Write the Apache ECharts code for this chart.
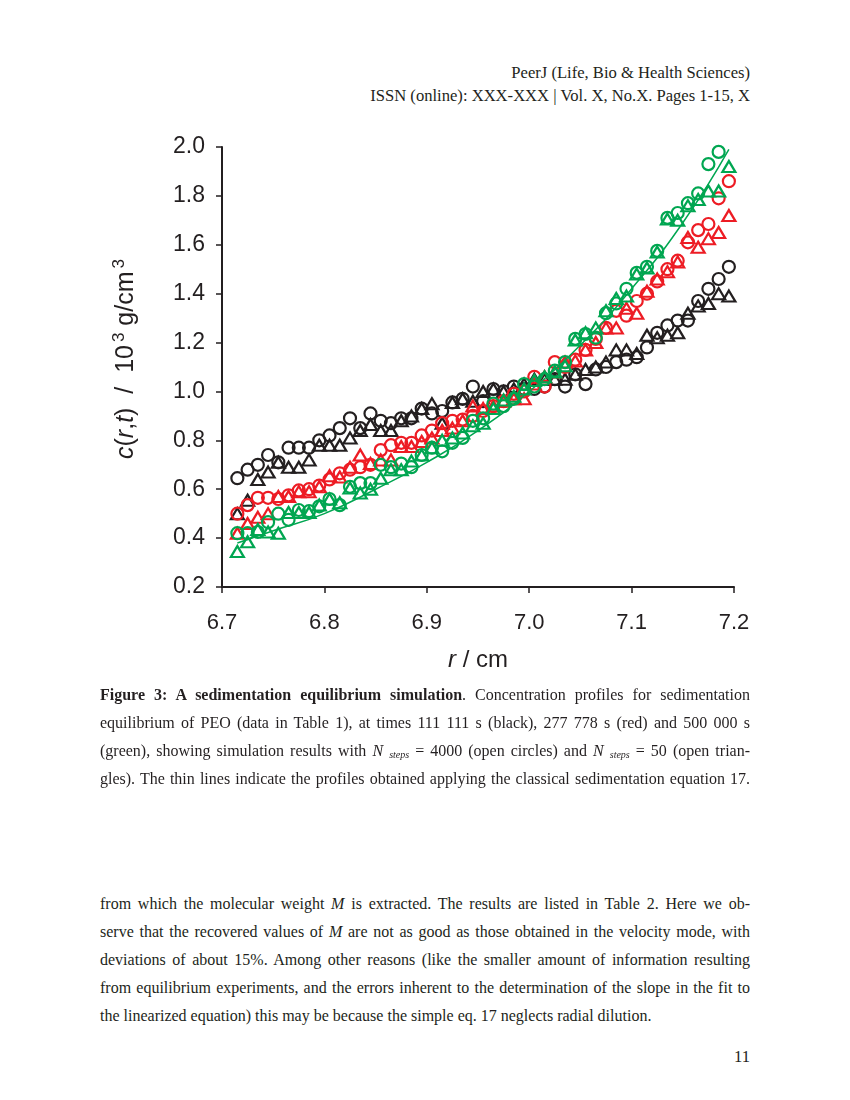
<!DOCTYPE html>
<html>
<head>
<meta charset="utf-8">
<script src="https://cdn.jsdelivr.net/npm/echarts@6/dist/echarts.min.js"></script>
<style>
  body { margin: 0; background: #fff; }
  #page { position: relative; width: 850px; height: 1100px; font-family: "Liberation Serif", "DejaVu Serif", serif; color: #231f20; font-size: 16px; }
  #main { position: absolute; left: 0; top: 0; width: 850px; height: 700px; }
  .ln { position: absolute; left: 100px; width: 650px; line-height: 22px; white-space: nowrap; }
  .j { text-align: justify; text-align-last: justify; }
  .r { text-align: right; font-size: 16.6px; }
  sub { font-size: 10px; font-style: italic; vertical-align: -2px; }
</style>
</head>
<body>
<div id="page">
  <div class="ln r" style="top:62px">PeerJ (Life, Bio &amp; Health Sciences)</div>
  <div class="ln r" style="top:85px">ISSN (online): XXX-XXX | Vol. X, No.X. Pages 1-15, X</div>

  <div id="main"></div>

  <div class="ln j" style="top:684px"><b>Figure 3: A sedimentation equilibrium simulation</b>. Concentration profiles for sedimentation</div>
  <div class="ln j" style="top:712px">equilibrium of PEO (data in Table 1), at times 111 111 s (black), 277 778 s (red) and 500 000 s</div>
  <div class="ln j" style="top:740px">(green), showing simulation results with <i>N</i> <sub>steps</sub> = 4000 (open circles) and <i>N</i> <sub>steps</sub> = 50 (open trian-</div>
  <div class="ln j" style="top:768px">gles). The thin lines indicate the profiles obtained applying the classical sedimentation equation 17.</div>

  <div class="ln j" style="top:893px">from which the molecular weight <i>M</i> is extracted. The results are listed in Table 2. Here we ob-</div>
  <div class="ln j" style="top:921px">serve that the recovered values of <i>M</i> are not as good as those obtained in the velocity mode, with</div>
  <div class="ln j" style="top:949px">deviations of about 15%. Among other reasons (like the smaller amount of information resulting</div>
  <div class="ln j" style="top:977px">from equilibrium experiments, and the errors inherent to the determination of the slope in the fit to</div>
  <div class="ln" style="top:1005px">the linearized equation) this may be because the simple eq. 17 neglects radial dilution.</div>

  <div class="ln r" style="top:1046px">11</div>
</div>
<script>
// radial positions r / cm
const rPos = [6.715, 6.725, 6.735, 6.745, 6.755, 6.765, 6.775, 6.785, 6.795, 6.805,
  6.815, 6.825, 6.835, 6.845, 6.855, 6.865, 6.875, 6.885, 6.895, 6.905,
  6.915, 6.925, 6.935, 6.945, 6.955, 6.965, 6.975, 6.985, 6.995, 7.005,
  7.015, 7.025, 7.035, 7.045, 7.055, 7.065, 7.075, 7.085, 7.095, 7.105,
  7.115, 7.125, 7.135, 7.145, 7.155, 7.165, 7.175, 7.185, 7.195];

// 111 111 s (black)
const blackCircles = [0.645, 0.68, 0.70, 0.74, 0.71, 0.77, 0.77, 0.77, 0.80, 0.82,
  0.85, 0.89, 0.85, 0.91, 0.88, 0.87, 0.89, 0.89, 0.93, 0.91,
  0.92, 0.955, 0.97, 1.02, 0.96, 1.01, 1.00, 1.02, 1.01, 1.01,
  1.02, 1.05, 1.02, 1.07, 1.03, 1.09, 1.10, 1.12, 1.13, 1.14,
  1.18, 1.24, 1.27, 1.29, 1.29, 1.37, 1.42, 1.46, 1.51];
const blackTriangles = [0.50, 0.555, 0.64, 0.67, 0.71, 0.69, 0.69, 0.72, 0.78, 0.78,
  0.78, 0.81, 0.84, 0.865, 0.84, 0.84, 0.88, 0.90, 0.93, 0.95,
  0.87, 0.955, 0.97, 0.96, 1.00, 1.01, 1.00, 1.01, 1.03, 1.05,
  1.05, 1.05, 1.05, 1.07, 1.09, 1.10, 1.12, 1.17, 1.17, 1.155,
  1.23, 1.22, 1.23, 1.24, 1.32, 1.35, 1.36, 1.40, 1.39];

// 277 778 s (red)
const redCircles = [0.50, 0.535, 0.565, 0.565, 0.56, 0.575, 0.595, 0.60, 0.615, 0.64,
  0.665, 0.68, 0.69, 0.70, 0.76, 0.78, 0.79, 0.79, 0.82, 0.84,
  0.87, 0.88, 0.885, 0.90, 0.92, 0.94, 0.96, 0.99, 1.00, 1.06,
  1.02, 1.12, 1.10, 1.13, 1.17, 1.215, 1.26, 1.33, 1.31, 1.37,
  1.40, 1.45, 1.50, 1.535, 1.61, 1.66, 1.685, 1.79, 1.86];
const redTriangles = [0.42, 0.46, 0.485, 0.50, 0.57, 0.57, 0.59, 0.59, 0.61, 0.655,
  0.65, 0.69, 0.74, 0.705, 0.72, 0.72, 0.775, 0.775, 0.795, 0.81,
  0.84, 0.85, 0.88, 0.94, 0.93, 0.94, 0.96, 0.97, 0.97, 1.03,
  1.06, 1.08, 1.12, 1.125, 1.17, 1.20, 1.26, 1.26, 1.34, 1.32,
  1.41, 1.46, 1.49, 1.53, 1.63, 1.59, 1.625, 1.65, 1.72];

// 500 000 s (green)
const greenCircles = [0.42, 0.42, 0.425, 0.465, 0.50, 0.475, 0.515, 0.51, 0.53, 0.56,
  0.535, 0.61, 0.625, 0.625, 0.70, 0.69, 0.705, 0.69, 0.74, 0.77,
  0.755, 0.79, 0.81, 0.88, 0.89, 0.95, 0.94, 0.97, 1.03, 1.02,
  1.05, 1.085, 1.12, 1.215, 1.235, 1.22, 1.32, 1.36, 1.42, 1.485,
  1.51, 1.575, 1.71, 1.73, 1.77, 1.81, 1.93, 1.98, null];
const greenTriangles = [0.345, 0.385, 0.435, 0.425, 0.42, 0.505, 0.505, 0.505, 0.535, 0.56,
  0.545, 0.605, 0.585, 0.60, 0.645, 0.68, 0.68, 0.715, 0.74, 0.77,
  0.80, 0.81, 0.83, 0.86, 0.87, 0.93, 0.965, 0.98, 1.01, 1.045,
  1.06, 1.08, 1.105, 1.21, 1.24, 1.26, 1.33, 1.38, 1.39, 1.48,
  1.505, 1.57, 1.705, 1.70, 1.76, 1.785, 1.82, 1.82, 1.92];

// classical sedimentation profile (thin line)
const lineR = [6.715, 6.75, 6.80, 6.85, 6.90, 6.95, 7.00, 7.05, 7.10, 7.15, 7.195];
const greenLine = [0.38, 0.43, 0.50, 0.60, 0.71, 0.84, 1.00, 1.19, 1.42, 1.69, 1.99];

const xTicks = ['6.7', '6.8', '6.9', '7.0', '7.1', '7.2'];

const BLACK = '#231f20', RED = '#ed1c24', GREEN = '#00a651';

function pairs(xs, ys) {
  const out = [];
  for (let i = 0; i < xs.length; i++) {
    if (ys[i] != null) out.push([xs[i], ys[i]]);
  }
  return out;
}

function marks(name, data, symbol, color) {
  return {
    name: name,
    type: 'scatter',
    symbol: symbol,
    symbolSize: symbol === 'circle' ? 12 : [13, 11],
    itemStyle: { color: 'rgba(0,0,0,0)', borderColor: color, borderWidth: 2.2, opacity: 1 },
    data: pairs(rPos, data)
  };
}

const myChart = echarts.init(document.getElementById('main'));
const option = {
  animation: false,
  grid: { left: 222, right: 116, top: 147, bottom: 113 },
  xAxis: {
    type: 'value', min: 6.7, max: 7.2, interval: 0.1,
    name: '{i|r} / cm', nameLocation: 'middle', nameGap: 61,
    nameTextStyle: {
      fontFamily: 'Liberation Sans', fontSize: 24, color: BLACK,
      rich: { i: { fontFamily: 'Liberation Sans', fontStyle: 'italic', fontSize: 24, color: BLACK } }
    },
    axisLine: { lineStyle: { color: BLACK, width: 2 } },
    axisTick: { length: 6, lineStyle: { color: BLACK, width: 1.5 } },
    axisLabel: {
      margin: 25, fontFamily: 'Liberation Sans', fontSize: 22, color: BLACK,
      formatter: function (v) { return xTicks[Math.round((v - 6.7) * 10)]; }
    },
    splitLine: { show: false }
  },
  yAxis: {
    type: 'value', min: 0.2, max: 2.0, interval: 0.2,
    name: '{i|c}({i|r},{i|t})  /  10{s|3} g/cm{s|3}', nameLocation: 'middle', nameGap: 80, nameRotate: 90,
    nameTextStyle: {
      fontFamily: 'Liberation Sans', fontSize: 25, color: BLACK,
      padding: [0, 0, 0, 16],
      rich: {
        i: { fontFamily: 'Liberation Sans', fontStyle: 'italic', fontSize: 25, color: BLACK },
        s: { fontFamily: 'Liberation Sans', fontSize: 17, color: BLACK, padding: [0, 0, 14, 3] }
      }
    },
    axisLine: { show: true, lineStyle: { color: BLACK, width: 2 } },
    axisTick: { show: true, length: 6, lineStyle: { color: BLACK, width: 1.5 } },
    axisLabel: {
      margin: 17, fontFamily: 'Liberation Sans', fontSize: 23, color: BLACK,
      formatter: function (v) { return v.toFixed(1); }
    },
    splitLine: { show: false }
  },
  series: [
    marks('black circles', blackCircles, 'circle', BLACK),
    marks('black triangles', blackTriangles, 'triangle', BLACK),
    marks('red circles', redCircles, 'circle', RED),
    marks('red triangles', redTriangles, 'triangle', RED),
    {
      name: 'green profile', type: 'line', smooth: true, showSymbol: false,
      lineStyle: { color: GREEN, width: 1.5 },
      data: pairs(lineR, greenLine)
    },
    marks('green circles', greenCircles, 'circle', GREEN),
    marks('green triangles', greenTriangles, 'triangle', GREEN)
  ]
};
myChart.setOption(option);
</script>
</body>
</html>
